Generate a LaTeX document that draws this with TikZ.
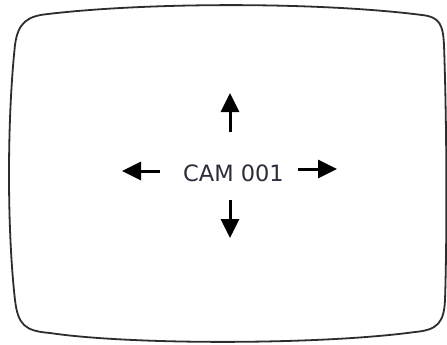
\documentclass[tikz,border=0pt]{standalone}
\usepackage{fontspec}
\setmainfont{DejaVu Sans}
\usetikzlibrary{arrows.meta}
\definecolor{frame}{RGB}{45,45,45}
\definecolor{txt}{RGB}{45,45,60}
\tikzset{
  screen/.style={draw=frame, line width=1.8pt, line join=round},
  pan/.style={draw=black, line width=3pt, -{Triangle[width=18pt,length=19pt]}},
  label/.style={text=txt, font=\fontsize{22.5}{26}\selectfont, inner sep=0pt}
}
\begin{document}
\begin{tikzpicture}[x=1pt,y=-1pt]
\useasboundingbox (0,0) rectangle (447,345);
\fill[white] (0,0) rectangle (447,345);
\draw[screen] (48,14) .. controls (150,2) and (320,2) .. (422,15)
  .. controls (440,17) and (443,25) .. (444,45)
  .. controls (447,130) and (447,240) .. (445,300)
  .. controls (444,322) and (438,330) .. (415,332)
  .. controls (320,345) and (130,345) .. (50,333)
  .. controls (25,331) and (18,325) .. (15,300)
  .. controls (7,230) and (7,120) .. (15,45)
  .. controls (18,22) and (28,16) .. cycle;
\node[label, anchor=base] (cam) at (233.5,181) {CAM 001};
\coordinate (u0) at (230,132); \coordinate (u1) at (230,93);
\coordinate (d0) at (230,200); \coordinate (d1) at (230,238);
\coordinate (l0) at (160,171); \coordinate (l1) at (122,171);
\coordinate (r0) at (298,169); \coordinate (r1) at (337,169);
\draw[pan] (u0) -- (u1);
\draw[pan] (d0) -- (d1);
\draw[pan] (l0) -- (l1);
\draw[pan] (r0) -- (r1);
\end{tikzpicture}
\end{document}
